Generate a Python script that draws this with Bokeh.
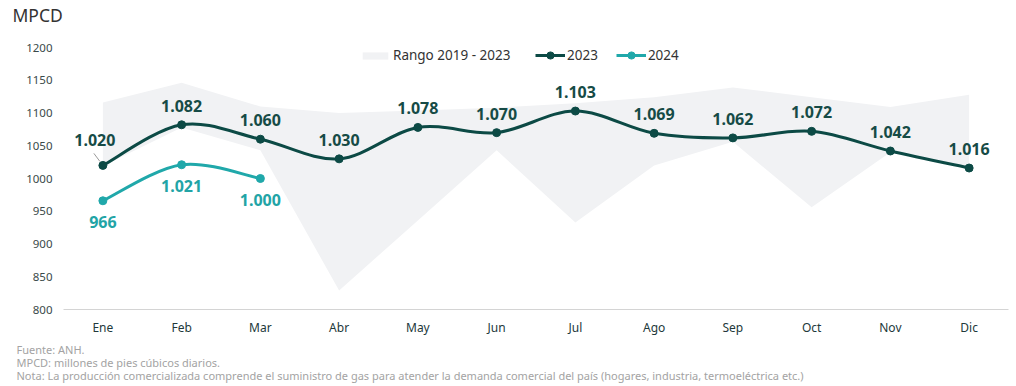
import numpy as np
from bokeh.plotting import figure
from bokeh.models import (Range1d, FixedTicker, Legend, LegendItem, Title, ColumnDataSource)
from bokeh.core.properties import value
from bokeh.embed import file_html
from bokeh.resources import INLINE

# ---------------- data ----------------
months = ["Ene", "Feb", "Mar", "Abr", "May", "Jun", "Jul", "Ago", "Sep", "Oct", "Nov", "Dic"]
y2023 = [1020, 1082, 1060, 1030, 1078, 1070, 1103, 1069, 1062, 1072, 1042, 1016]
y2024 = [966, 1021, 1000]
range_low = [1019, 1078, 1043, 829, 936, 1043, 933, 1020, 1056, 956, 1040, 1016]
range_high = [1116, 1146, 1110, 1100, 1104, 1108, 1115, 1124, 1139, 1124, 1109, 1128]
y_ticks = [800, 850, 900, 950, 1000, 1050, 1100, 1150, 1200]

FONT = "Noto Sans"
C23 = "#0c4a45"
C24 = "#20a8aa"
BAND = "#f1f2f4"

def fmt(v):
    return f"{v:,}".replace(",", ".")

def pos(n):
    return [i + 0.5 for i in range(n)]

def catmull(xs, ys, t=1.0 / 6.0):
    P = np.column_stack([xs, ys]).astype(float)
    n = len(P)
    out = {k: [] for k in ["x0", "y0", "x1", "y1", "cx0", "cy0", "cx1", "cy1"]}
    for i in range(n - 1):
        p0 = P[max(i - 1, 0)]
        p1 = P[i]
        p2 = P[i + 1]
        p3 = P[min(i + 2, n - 1)]
        c1 = p1 + (p2 - p0) * t
        c2 = p2 - (p3 - p1) * t
        out["x0"].append(p1[0]); out["y0"].append(p1[1])
        out["x1"].append(p2[0]); out["y1"].append(p2[1])
        out["cx0"].append(c1[0]); out["cy0"].append(c1[1])
        out["cx1"].append(c2[0]); out["cy1"].append(c2[1])
    return out

# ---------------- figure ----------------
FW, FH = 945, 262
p = figure(frame_width=FW, frame_height=FH, output_backend="svg", toolbar_location=None,
           x_range=Range1d(0, 12), y_range=Range1d(800, 1200),
           min_border_left=63, min_border_right=8, min_border_top=47, min_border_bottom=0)
p.outline_line_color = None
p.xgrid.grid_line_color = None
p.ygrid.grid_line_color = None
p.background_fill_color = "white"
p.border_fill_color = "white"

# band
xs = pos(len(months))
band = p.varea(x=xs, y1=range_low, y2=range_high, fill_color=BAND)

# 2023 line
s23 = catmull(xs, y2023)
b23 = p.bezier(source=ColumnDataSource(s23), x0="x0", y0="y0", x1="x1", y1="y1",
               cx0="cx0", cy0="cy0", cx1="cx1", cy1="cy1", line_color=C23, line_width=3)
d23 = p.scatter(xs, y2023, size=8, fill_color=C23, line_color=C23)

# 2024 line
x24 = pos(len(y2024))
s24 = catmull(x24, y2024)
b24 = p.bezier(source=ColumnDataSource(s24), x0="x0", y0="y0", x1="x1", y1="y1",
               cx0="cx0", cy0="cy0", cx1="cx1", cy1="cy1", line_color=C24, line_width=3)
d24 = p.scatter(x24, y2024, size=8, fill_color=C24, line_color=C24)

# data labels
xoff23 = [-8] + [0] * (len(y2023) - 1)
yoff23 = [-25] + [-19] * (len(y2023) - 1)
src23 = ColumnDataSource(dict(x=xs, y=y2023, t=[fmt(v) for v in y2023], xo=xoff23, yo=yoff23))
p.text(x="x", y="y", text="t", source=src23, x_offset="xo", y_offset="yo",
       text_align="center", text_baseline="middle", text_font=value(FONT),
       text_font_size="16px", text_font_style="bold", text_color="#164b46")
src24 = ColumnDataSource(dict(x=x24, y=y2024, t=[fmt(v) for v in y2024]))
p.text(x="x", y="y", text="t", source=src24, y_offset=21,
       text_align="center", text_baseline="middle", text_font=value(FONT),
       text_font_size="16px", text_font_style="bold", text_color="#22a4a6")

# leader line for first 2023 label (derived from the first point)
xpx = FW / 12.0
ypx = FH / 400.0
p.segment(x0=[xs[0] - 9 / xpx], y0=[y2023[0] + 12 / ypx], x1=[xs[0] - 3 / xpx], y1=[y2023[0] + 4 / ypx],
          line_color="#9a9a9a", line_width=1)

# axes
p.xaxis.ticker = FixedTicker(ticks=xs)
p.xaxis.major_label_overrides = {x: m for x, m in zip(xs, months)}
p.xaxis.axis_line_color = "#d4d4d4"
p.xaxis.axis_line_width = 1
p.xaxis.major_tick_line_color = None
p.xaxis.minor_tick_line_color = None
p.xaxis.major_tick_out = 0
p.xaxis.major_label_standoff = 9
p.xaxis.major_label_text_font = FONT
p.xaxis.major_label_text_font_size = "12px"
p.xaxis.major_label_text_color = "#22383a"

p.yaxis.ticker = FixedTicker(ticks=y_ticks)
p.yaxis.axis_line_color = None
p.yaxis.major_tick_line_color = None
p.yaxis.minor_tick_line_color = None
p.yaxis.major_tick_out = 0
p.yaxis.major_label_standoff = 11
p.yaxis.major_label_text_font = FONT
p.yaxis.major_label_text_font_size = "11.5px"
p.yaxis.major_label_text_color = "#3a4a4a"

# legends
leg1 = Legend(items=[LegendItem(label="Rango 2019 - 2023", renderers=[band])],
              orientation="horizontal", location=(362 - 63 - 3, FH - 8 - 9),
              glyph_width=32, glyph_height=9, label_standoff=2, padding=0, margin=0,
              border_line_color=None, background_fill_alpha=0,
              label_text_font=FONT, label_text_font_size="13.5px", label_text_color="#333333")
leg2 = Legend(items=[LegendItem(label="2023", renderers=[b23, d23]),
                     LegendItem(label="2024", renderers=[b24, d24])],
              orientation="horizontal", location=(535 - 63, FH - 8 - 9),
              glyph_width=30, glyph_height=18, label_standoff=2, spacing=18, padding=0, margin=0,
              border_line_color=None, background_fill_alpha=0,
              label_text_font=FONT, label_text_font_size="13.5px", label_text_color="#333333")
p.add_layout(leg1)
p.add_layout(leg2)

# title above (second, empty line lifts it towards the top edge)
p.add_layout(Title(text="MPCD\n", align="left", offset=-51, standoff=0,
                   text_font=FONT, text_font_size="17.5px", text_font_style="normal",
                   text_line_height=0.85, text_color="#333333"), "above")

# footer below
footer = ["Fuente: ANH.",
          "MPCD: millones de pies cúbicos diarios.",
          "Nota: La producción comercializada comprende el suministro de gas para atender la demanda "
          "comercial del país (hogares, industria, termoeléctrica etc.)"]
p.add_layout(Title(text="\n".join(footer), align="left", offset=-47, standoff=3,
                   text_font=FONT, text_font_size="11px", text_font_style="normal",
                   text_line_height=0.87, text_color="#a3a3a3"), "below")

open("out.html", "w").write(file_html(p, INLINE))
